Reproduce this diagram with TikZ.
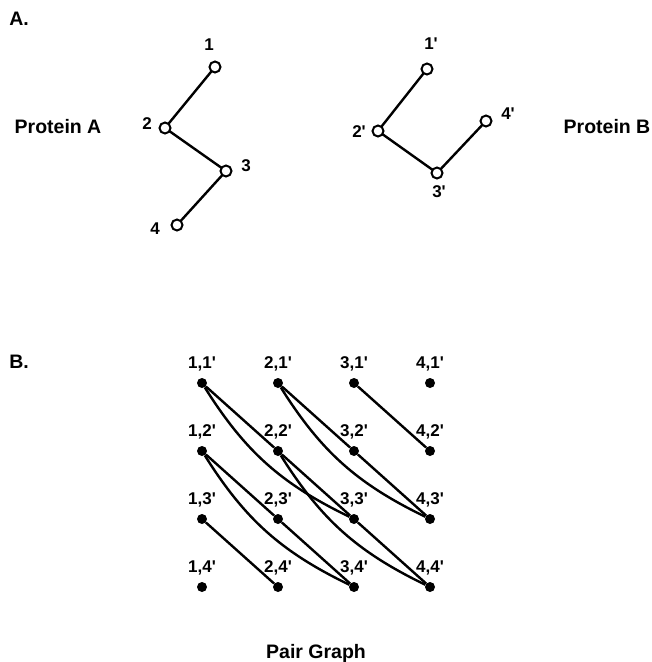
\documentclass[tikz,border=0pt]{standalone}
\usepackage{fontspec}
\setmainfont{Liberation Sans}
\usepackage{tikz}
\usetikzlibrary{positioning}
\newcommand{\prm}{\textquotesingle}

\begin{document}
\begin{tikzpicture}[x=1pt,y=-1pt,every node/.style={font=\fontsize{17}{19}\selectfont\bfseries}]
    \tikzstyle{res}=[circle,draw,line width=2pt,fill=white,inner sep=0pt,minimum size=11pt];
    \tikzstyle{dot}=[circle,fill=black,inner sep=0pt,minimum size=10pt];
    \tikzstyle{head}=[font=\fontsize{19.5}{22}\selectfont\bfseries];
    \tikzstyle{bond}=[line width=2.4pt];
    \useasboundingbox (0,0) rectangle (652,662);

    % A: the two chains
    \node[head] (tA) at (19,19) {A.};
    \node[head] (protA) at (58,127) {Protein A};
    \node[head] (protB) at (607,127) {Protein B};

    \coordinate (a1) at (215,67);
    \coordinate (a2) at (165,128);
    \coordinate (a3) at (226,171);
    \coordinate (a4) at (177,225);
    \draw[bond] (a1) -- (a2) -- (a3) -- (a4);
    \node[res] (ra1) at (a1) {};
    \node[res] (ra2) at (a2) {};
    \node[res] (ra3) at (a3) {};
    \node[res] (ra4) at (a4) {};
    \node (la1) at (209,45)  {1};
    \node (la2) at (147,124) {2};
    \node (la3) at (246,166) {3};
    \node (la4) at (155,229) {4};

    \coordinate (b1) at (427,69);
    \coordinate (b2) at (378,131);
    \coordinate (b3) at (437,173);
    \coordinate (b4) at (486,121);
    \draw[bond] (b1) -- (b2) -- (b3) -- (b4);
    \node[res] (rb1) at (b1) {};
    \node[res] (rb2) at (b2) {};
    \node[res] (rb3) at (b3) {};
    \node[res] (rb4) at (b4) {};
    \node (lb1) at (431,44)  {1\prm};
    \node (lb2) at (359,132) {2\prm};
    \node (lb3) at (439,192) {3\prm};
    \node (lb4) at (508,114) {4\prm};

    % B: pair graph
    \node[head] (tB) at (19,362) {B.};
    \foreach \i/\x in {1/202,2/278,3/354,4/430}
      \foreach \j/\y in {1/383,2/451,3/519,4/587}
        \node[dot,label={[label distance=3pt]above:\i,\j\prm}] (p\i\j) at (\x,\y) {};

    \draw[bond] (p11) -- (p22);
    \draw[bond] (p21) -- (p32);
    \draw[bond] (p31) -- (p42);
    \draw[bond] (p12) -- (p23);
    \draw[bond] (p22) -- (p33);
    \draw[bond] (p32) -- (p43);
    \draw[bond] (p13) -- (p24);
    \draw[bond] (p23) -- (p34);
    \draw[bond] (p33) -- (p44);
    \draw[bond] (p11) to[bend right=16] (p33);
    \draw[bond] (p21) to[bend right=16] (p43);
    \draw[bond] (p12) to[bend right=16] (p34);
    \draw[bond] (p22) to[bend right=16] (p44);

    \node[head] (title) at (316,653) {Pair Graph};
\end{tikzpicture}
\end{document}
